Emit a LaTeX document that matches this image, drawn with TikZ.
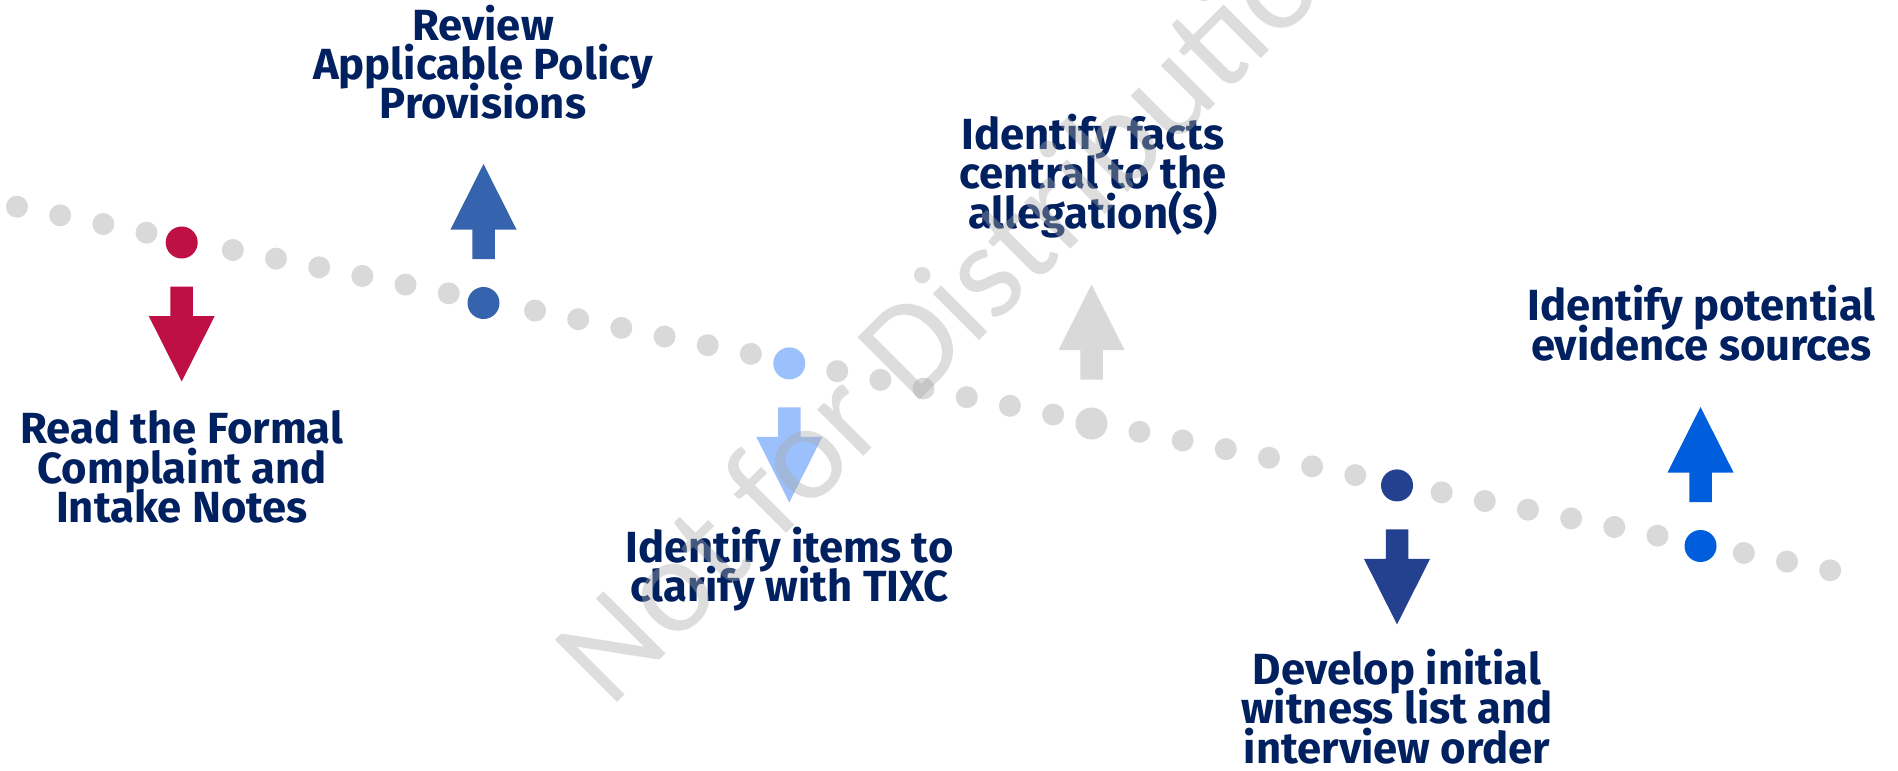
\documentclass[tikz,border=0pt]{standalone}
\usepackage{fontspec}
\setmainfont{Fira Sans}
\newfontfamily\markfont{Carlito}
\usepackage{xcolor}
\usepackage{tikz}
\definecolor{steprose}{RGB}{190,16,69}
\definecolor{stepblue}{RGB}{53,99,174}
\definecolor{stepsky}{RGB}{155,192,251}
\definecolor{stepgray}{RGB}{217,217,217}
\definecolor{stepnavy}{RGB}{36,65,143}
\definecolor{stepbright}{RGB}{0,94,220}
\definecolor{labelnavy}{RGB}{0,32,96}
\definecolor{trackgray}{RGB}{217,217,217}
\definecolor{markgray}{RGB}{170,170,170}
\newcommand{\labelfont}{\bfseries\fontsize{12.4}{11.2}\selectfont\setlength{\lineskiplimit}{-20pt}}

\tikzset{
  stepdot/.style={circle,inner sep=0pt,minimum size=0.32cm},
  steplabel/.style={align=center,anchor=base,inner sep=0pt,text=labelnavy,font=\labelfont},
}

\begin{document}
\begin{tikzpicture}[x=0.01cm,y=-0.01cm]
  \useasboundingbox (0,0) rectangle (1898,770);
  \clip (0,0) rectangle (1898,770);
  % dotted track, every 7th place is left for a step dot
  \foreach \k in {0,...,42}{
    \pgfmathtruncatemacro\gap{mod(\k+3,7)}
    \ifnum\gap>0
      \fill[trackgray] ({17+43.17*\k},{206.7+8.657*\k}) circle (11);
    \fi
  }
  % step dots and block arrows (d=1 down, d=-1 up)
  \foreach \i/\x/\y/\col/\d in {1/181.7/242.5/steprose/1, 2/483.5/303/stepblue/-1,
      3/789.3/363.4/stepsky/1, 4/1091.5/423.5/stepgray/-1,
      5/1397/485.4/stepnavy/1, 6/1700.5/546/stepbright/-1}{
    \node[stepdot,fill=\col] (s\i) at (\x,\y) {};
    \fill[\col,shift={(s\i)},yscale=\d] (-11.25,44) -- (11.25,44) -- (11.25,73.5)
      -- (33,73.5) -- (0,139) -- (-33,73.5) -- (-11.25,73.5) -- cycle;
  }
  % labels (base = last line)
  \node[steplabel] (read) at (182,522.7) {Read the Formal\\Complaint and\\Intake Notes};
  \node[steplabel] (review) at (483,119) {Review\\Applicable Policy\\Provisions};
  \node[steplabel] (items) at (789.5,601.7) {Identify items to\\clarify with TIXC};
  \node[steplabel] (facts) at (1093,228.3) {Identify facts\\central to the\\allegation(s)};
  \node[steplabel] (witness) at (1397,763) {Develop initial\\witness list and\\interview order};
  \node[steplabel] (sources) at (1701.5,360) {Identify potential\\evidence sources};
  % watermark
  \node[rotate=45,anchor=base west,inner sep=0pt,text=markgray,opacity=0.4,
    font=\markfont\fontsize{39}{39}\selectfont] (mark) at (610,710) {Not for Distribution};
\end{tikzpicture}
\end{document}
